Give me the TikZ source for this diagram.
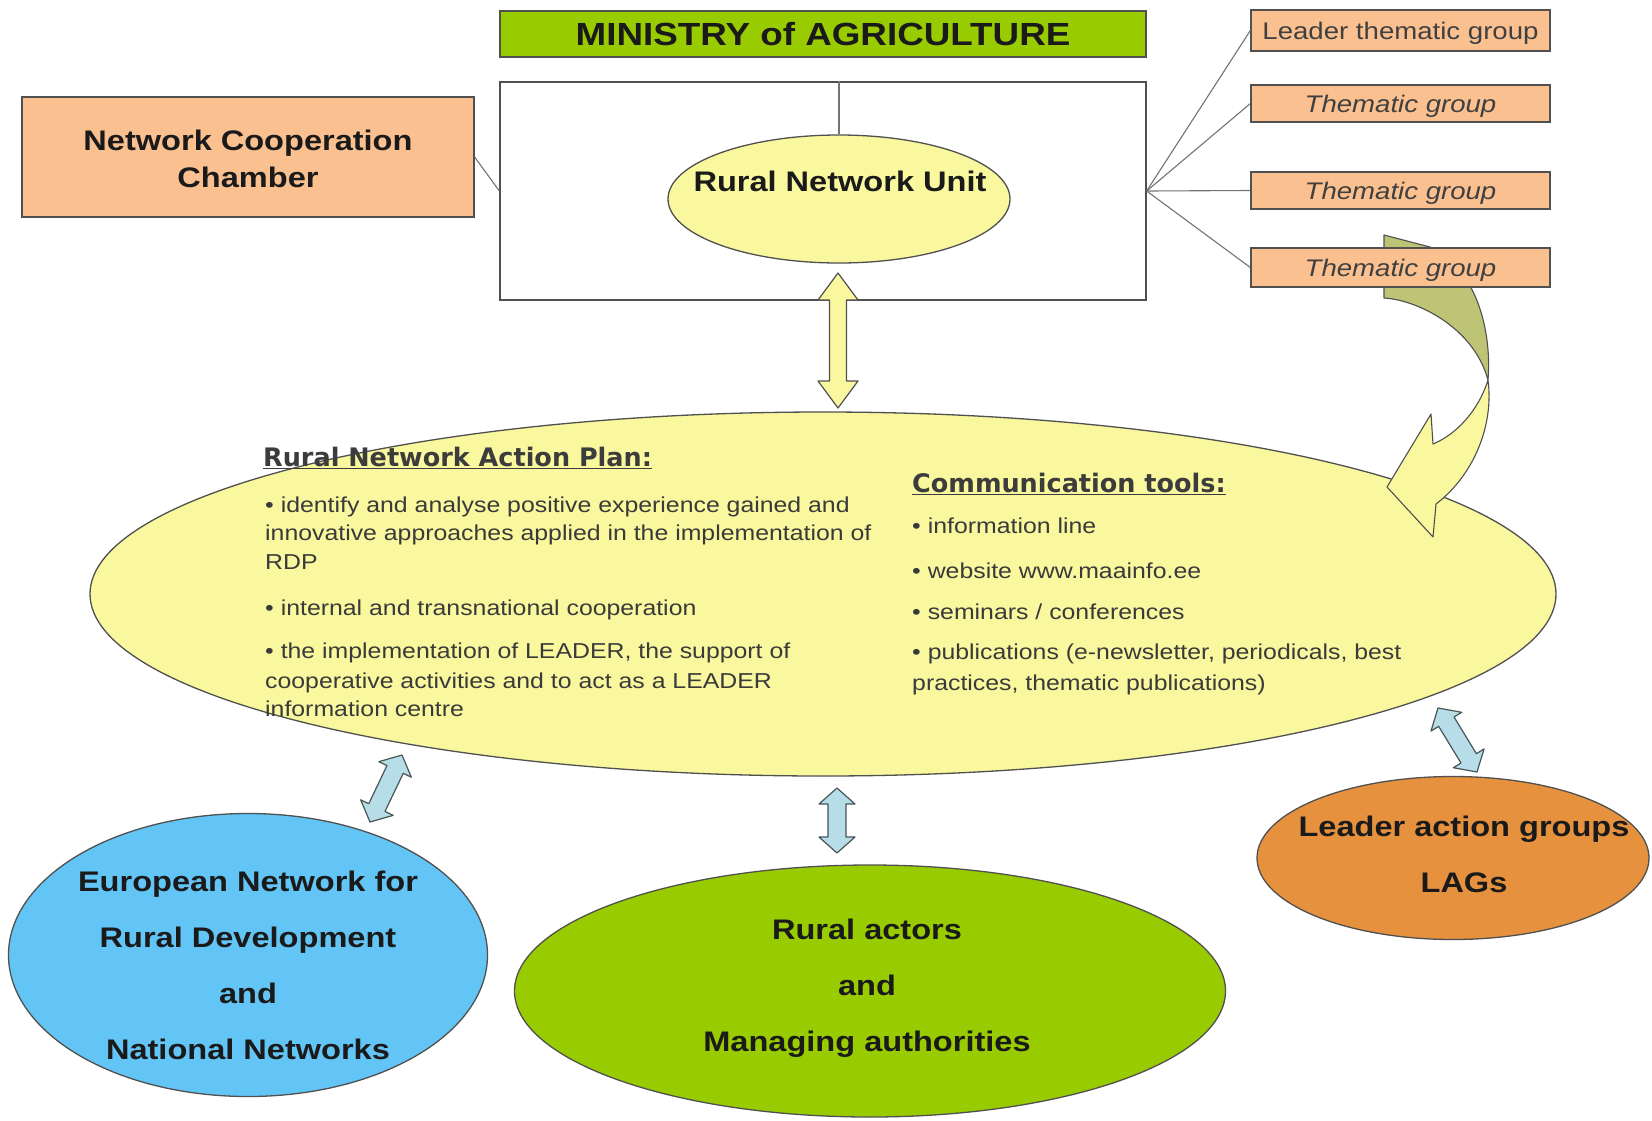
\documentclass[tikz,border=0pt]{standalone}
\usepackage{fontspec}
\setmainfont{Liberation Sans}[FakeStretch=1.15]
\newfontfamily\hfont{DejaVu Sans}
\usetikzlibrary{calc,shapes.geometric}
\definecolor{minGreen}{HTML}{99CC00}
\definecolor{peach}{HTML}{FAC090}
\definecolor{paleYel}{HTML}{F9F89E}
\definecolor{skyBl}{HTML}{63C5F5}
\definecolor{lagOr}{HTML}{E6913E}
\definecolor{iceBl}{HTML}{B7DEE8}
\definecolor{oliveArr}{HTML}{BEC475}
\definecolor{edge}{HTML}{505050}
\definecolor{txt}{HTML}{1A1A1A}
\definecolor{bodyTxt}{HTML}{3A3A3A}
\definecolor{thTxt}{HTML}{404040}
\newcommand\fMin{\fontsize{32}{38}\selectfont\bfseries}
\newcommand\fLab{\fontsize{28.3}{34}\selectfont\bfseries}
\newcommand\fTh{\fontsize{24}{29}\selectfont}
\newcommand\fBody{\fontsize{21.6}{28}\selectfont}
\newcommand\fHead{\hfont\bfseries\fontsize{25.5}{30}\selectfont}
\begin{document}
\begin{tikzpicture}[x=1pt,y=-1pt,
  bx/.style={draw=edge, line width=1.3pt, inner sep=0pt},
  ell/.style={ellipse, draw=edge, line width=1.3pt, inner sep=0pt},
  lab/.style={font=\fLab, text=txt, inner sep=0pt, text height=20.3pt, text depth=0pt},
  thbox/.style={bx, fill=peach, minimum width=299pt, font=\fTh, text=thTxt, text height=17.2pt, text depth=0pt},
  body/.style={font=\fBody, text=bodyTxt, inner sep=0pt, text height=15.5pt, text depth=0pt, anchor=west},
  head/.style={font=\fHead, text=txt!85!white, inner sep=0pt, text height=18.6pt, text depth=0pt, anchor=west},
  conn/.style={draw=edge!80!white, line width=1.1pt},
  dbl/.style n args={3}{to path={let \p1=(\tikztostart), \p2=(\tikztotarget),
     \n1={atan2(\y2-\y1,\x2-\x1)} in
     -- ($(\p1)+(\n1:#3)+(\n1+90:#2)$)
     -- ($(\p1)+(\n1:#3)+(\n1+90:#1)$)
     -- ($(\p2)+(\n1+180:#3)+(\n1+90:#1)$)
     -- ($(\p2)+(\n1+180:#3)+(\n1+90:#2)$)
     -- (\p2)
     -- ($(\p2)+(\n1+180:#3)+(\n1-90:#2)$)
     -- ($(\p2)+(\n1+180:#3)+(\n1-90:#1)$)
     -- ($(\p1)+(\n1:#3)+(\n1-90:#1)$)
     -- ($(\p1)+(\n1:#3)+(\n1-90:#2)$)
     -- cycle}},
  bigarr/.style={dbl={8.5pt}{20pt}{27pt}, fill=paleYel, draw=edge, line width=1.2pt, line join=round},
  smallarr/.style={dbl={9pt}{18pt}{16pt}, fill=iceBl, draw=edge!90!teal, line width=1.2pt, line join=round}
]
\useasboundingbox (0,0) rectangle (1652,1120);
\fill[white] (0,0) rectangle (1652,1120);

% ministry and unit box
\node[bx, fill=white, minimum width=646pt, minimum height=218pt] (wbox) at (823,191) {};
\node[bx, fill=minGreen, minimum width=646pt, minimum height=46pt, font=\fMin, text=txt, text height=23pt, text depth=0pt] (min) at (823,34) {MINISTRY of AGRICULTURE};
\node[ell, fill=paleYel, minimum width=342pt, minimum height=128pt] (rnu) at (839,199) {};
\node[lab] (rnut) at (840,181) {Rural Network Unit};
\draw[conn] (rnu.north) -- (rnu.north |- wbox.north);

% network cooperation chamber
\node[bx, fill=peach, minimum width=452pt, minimum height=120pt] (ncc) at (248,157) {};
\node[lab] (ncc1) at (248,140) {Network Cooperation};
\node[lab] (ncc2) at (248,177) {Chamber};
\draw[conn] (ncc.east) -- (wbox.west);

% big action plan ellipse
\node[ell, fill=paleYel, minimum width=1466pt, minimum height=364pt] (big) at (823,594) {};

% curved arrow (thematic groups -> action plan)
\filldraw[fill=oliveArr, draw=edge, line width=1.1pt, line join=round]
  (1384,235) -- (1384,298) .. controls (1418,300) and (1474,328) .. (1488,380)
  .. controls (1492,330) and (1476,268) .. (1430,247) -- cycle;
\filldraw[fill=paleYel, draw=edge, line width=1.1pt, line join=round]
  (1488,380) .. controls (1494,425) and (1474,475) .. (1436,504)
  -- (1433,537) -- (1387,487) -- (1431,414) -- (1433,444)
  .. controls (1455,435) and (1478,412) .. (1488,380) -- cycle;

% thematic groups
\node[thbox, minimum height=41pt] (ltg) at (1400.5,30.5) {Leader thematic group};
\node[thbox, minimum height=37pt] (tg1) at (1400.5,103.5) {\itshape Thematic group};
\node[thbox, minimum height=37pt] (tg2) at (1400.5,190.5) {\itshape Thematic group};
\node[thbox, minimum height=39pt] (tg3) at (1400.5,267.5) {\itshape Thematic group};
\foreach \g in {ltg,tg1,tg2,tg3} \draw[conn] (wbox.east) -- (\g.west);

% big yellow double arrow
\coordinate (ya1) at (838,273);
\coordinate (ya2) at (838,408);
\draw[bigarr] (ya1) to (ya2);

% action plan text
\node[head] (aph) at (263,457) {\underline{Rural Network Action Plan:}};
\foreach \yy/\myline [count=\i] in {
  505/{• identify and analyse positive experience gained and},
  533/{innovative approaches applied in the implementation of},
  562/{RDP},
  608/{• internal and transnational cooperation},
  651/{• the implementation of LEADER, the support of},
  681/{cooperative activities and to act as a LEADER},
  709/{information centre}}
  \node[body] (ap\i) at (265,\yy) {\myline};
\node[head] (cth) at (912,483) {\underline{Communication tools:}};
\foreach \yy/\myline [count=\i] in {
  526/{• information line},
  571/{• website www.maainfo.ee},
  612/{• seminars / conferences},
  652/{• publications (e-newsletter, periodicals, best},
  683/{practices, thematic publications)}}
  \node[body] (ct\i) at (912,\yy) {\myline};

% partner circles
\node[ell, fill=skyBl, minimum width=479pt, minimum height=283pt] (eu) at (248,955) {};
\foreach \myline [count=\i] in {European Network for, Rural Development, and, National Networks}
  \node[lab] (eu\i) at (248,825+56*\i) {\myline};
\node[ell, fill=minGreen, minimum width=711pt, minimum height=252pt] (ra) at (870,991) {};
\foreach \myline [count=\i] in {Rural actors, and, Managing authorities}
  \node[lab] (ra\i) at (867,873+56*\i) {\myline};
\node[ell, fill=lagOr, minimum width=392pt, minimum height=163pt] (lag) at (1453,858) {};
\foreach \myline [count=\i] in {Leader action groups, LAGs}
  \node[lab] (lag\i) at (1464,770+56*\i) {\myline};

% small double arrows
\coordinate (sa1) at (402,755); \coordinate (sa2) at (370,822);
\coordinate (sb1) at (837,788); \coordinate (sb2) at (837,853);
\coordinate (sc1) at (1438,708); \coordinate (sc2) at (1477,772);
\draw[smallarr] (sa1) to (sa2);
\draw[smallarr] (sb1) to (sb2);
\draw[smallarr] (sc1) to (sc2);
\end{tikzpicture}
\end{document}
